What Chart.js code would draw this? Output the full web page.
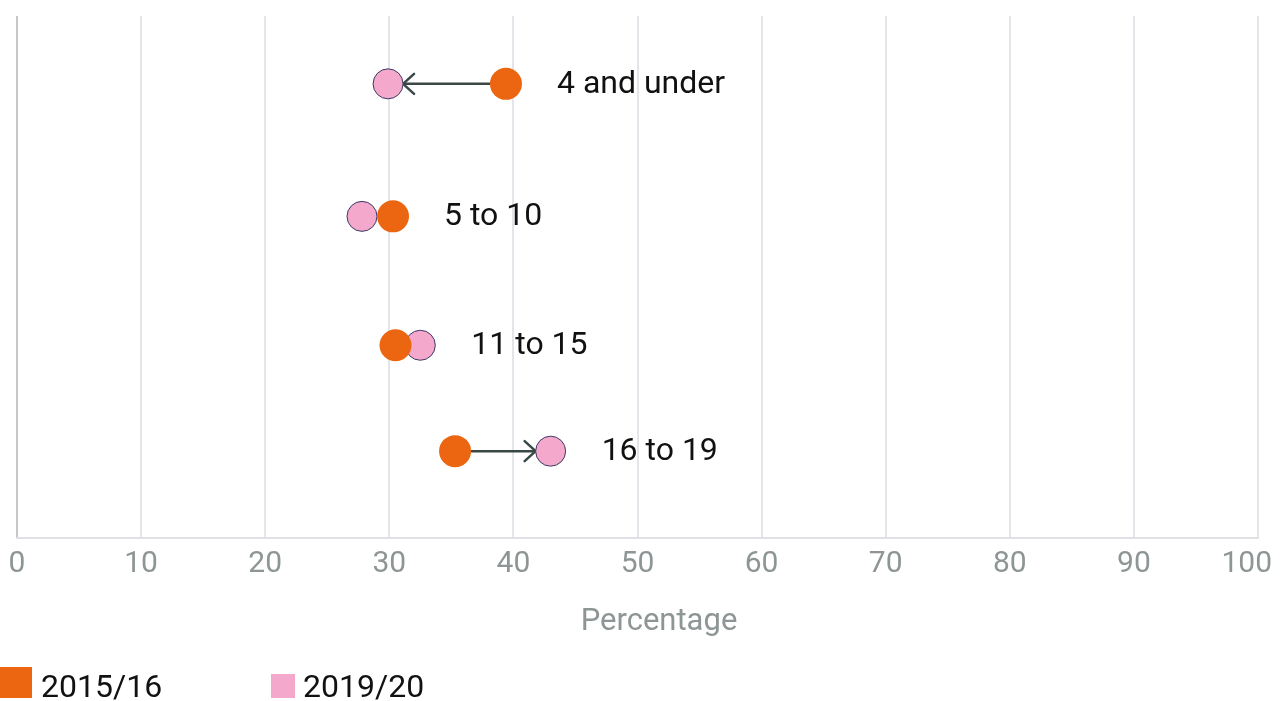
<!DOCTYPE html>
<html>
<head>
<meta charset="utf-8">
<style>
  html, body { margin: 0; padding: 0; background: #ffffff; }
  #wrap { width: 1284px; height: 701px; position: relative; }
</style>
<script src="https://cdn.jsdelivr.net/npm/chart.js@4.4.1/dist/chart.umd.min.js"></script>
</head>
<body>
<div id="wrap"><canvas id="chart"></canvas></div>
<script>
// Age groups and their vertical position on the hidden row axis
const categories = ['4 and under', '5 to 10', '11 to 15', '16 to 19'];
const rowPos = [87.0, 61.6, 36.9, 16.6];

// Percentage for each age group, by year
const values2015 = [39.4, 30.3, 30.5, 35.3];
const values2019 = [29.9, 27.8, 32.5, 43.0];

const seriesNames = ['2015/16', '2019/20'];
const xTicks = [0, 10, 20, 30, 40, 50, 60, 70, 80, 90, 100];
const xTitle = 'Percentage';

const ORANGE = '#ec6612';
const PINK = '#f3a8cc';
const GREY_TEXT = '#8e9595';
const FONT = 'Roboto, "Noto Sans", sans-serif';

const toPoints = vals => vals.map((v, i) => ({ x: v, y: rowPos[i] }));

const annotations = {
  id: 'dumbbellExtras',
  // Arrow from the earlier year to the later one, beneath the markers
  beforeDatasetsDraw(chart) {
    const { ctx, scales: { x, y } } = chart;
    ctx.save();
    ctx.strokeStyle = '#3a4845';
    ctx.lineWidth = 2.5;
    ctx.lineCap = 'round';
    ctx.lineJoin = 'round';
    categories.forEach((c, i) => {
      const x0 = x.getPixelForValue(values2015[i]);
      const x1 = x.getPixelForValue(values2019[i]);
      const py = y.getPixelForValue(rowPos[i]);
      const dx = x1 - x0;
      if (Math.abs(dx) < 45) return;
      const dir = Math.sign(dx);
      const start = x0 + dir * 16;
      const tip = x1 - dir * 15;
      ctx.beginPath();
      ctx.moveTo(start, py);
      ctx.lineTo(tip, py);
      ctx.stroke();
      ctx.beginPath();
      ctx.moveTo(tip - dir * 11, py - 10);
      ctx.lineTo(tip, py);
      ctx.lineTo(tip - dir * 11, py + 10);
      ctx.stroke();
    });
    ctx.restore();
  },
  // Age-group names to the right of each pair
  afterDatasetsDraw(chart) {
    const { ctx, scales: { x, y } } = chart;
    ctx.save();
    ctx.font = '32px ' + FONT;
    ctx.fillStyle = '#111111';
    ctx.textBaseline = 'middle';
    ctx.textAlign = 'left';
    categories.forEach((c, i) => {
      const right = Math.max(values2015[i], values2019[i]);
      const px = x.getPixelForValue(right) + 51;
      const py = y.getPixelForValue(rowPos[i]);
      ctx.fillText(c, px, py + 1);
    });
    ctx.restore();
  },
  afterDraw(chart) {
    const { ctx, width } = chart;
    const x = chart.scales.x;
    ctx.save();

    // tick labels, the last one kept inside the canvas
    ctx.font = '30px ' + FONT;
    ctx.fillStyle = GREY_TEXT;
    ctx.textBaseline = 'middle';
    ctx.textAlign = 'center';
    const tickY = x.top + 9 + 18;
    xTicks.forEach(v => {
      const label = String(v);
      const w = ctx.measureText(label).width;
      let cx = x.getPixelForValue(v);
      cx = Math.min(cx, width - 12 - w / 2);
      ctx.fillText(label, cx, tickY);
    });

    // axis title
    ctx.font = '31px ' + FONT;
    ctx.fillText(xTitle, 659, x.bottom - 18.6);

    // legend
    ctx.font = '32px ' + FONT;
    ctx.textBaseline = 'alphabetic';
    ctx.textAlign = 'left';
    ctx.fillStyle = ORANGE;
    ctx.fillRect(0, 667, 32, 31);
    ctx.fillStyle = '#111111';
    ctx.fillText(seriesNames[0], 41, 697);
    ctx.fillStyle = PINK;
    ctx.fillRect(271, 674, 24, 24);
    ctx.fillStyle = '#111111';
    ctx.fillText(seriesNames[1], 303, 697);
    ctx.restore();
  }
};

new Chart(document.getElementById('chart'), {
  type: 'scatter',
  data: {
    datasets: [
      {
        label: seriesNames[0],
        data: toPoints(values2015),
        backgroundColor: ORANGE,
        borderColor: ORANGE,
        borderWidth: 0,
        pointRadius: 16,
        pointHoverRadius: 16
      },
      {
        label: seriesNames[1],
        data: toPoints(values2019),
        backgroundColor: PINK,
        borderColor: '#3c3a66',
        borderWidth: 1,
        pointRadius: 15,
        pointHoverRadius: 15
      }
    ]
  },
  options: {
    responsive: true,
    maintainAspectRatio: false,
    animation: false,
    layout: { padding: { top: 12, left: 0, right: 0, bottom: 60 } },
    plugins: {
      legend: { display: false },
      tooltip: { enabled: false }
    },
    scales: {
      x: {
        type: 'linear',
        min: 0,
        max: 100,
        afterBuildTicks(scale) {
          scale.ticks = xTicks.map(v => ({ value: v }));
        },
        afterFit(scale) {
          // keep the plot edges where the end labels just fit
          scale.paddingLeft = 17;
          scale.paddingRight = 26;
        },
        grid: {
          drawTicks: false,
          lineWidth: 2,
          color: ctx => (ctx.tick && ctx.tick.value === 0) ? '#c4c6c8' : '#e3e5ea'
        },
        border: { display: true, color: '#dfe1e5', width: 2 },
        ticks: {
          padding: 9,
          color: 'rgba(0,0,0,0)',
          font: { family: FONT, size: 30 },
          maxRotation: 0
        },
        title: {
          display: true,
          text: xTitle,
          color: 'rgba(0,0,0,0)',
          font: { family: FONT, size: 31 },
          padding: { top: 12, bottom: 0 }
        }
      },
      y: {
        type: 'linear',
        min: 0,
        max: 100,
        display: false
      }
    }
  },
  plugins: [annotations]
});
</script>
</body>
</html>
